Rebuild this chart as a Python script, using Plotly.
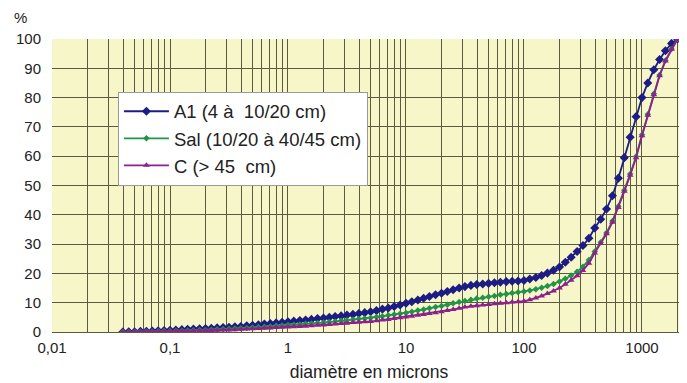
import plotly.graph_objects as go

# particle size classes (microns)
diametre = [
    0.0398, 0.0447, 0.0501, 0.0562, 0.0631, 0.0708, 0.0794, 0.0891,
    0.1, 0.112, 0.126, 0.141, 0.158, 0.178, 0.2, 0.224, 0.251, 0.282,
    0.316, 0.355, 0.398, 0.447, 0.501, 0.562, 0.631, 0.708, 0.794, 0.891,
    1.0, 1.12, 1.26, 1.41, 1.58, 1.78, 2.0, 2.24, 2.51, 2.82,
    3.16, 3.55, 3.98, 4.47, 5.01, 5.62, 6.31, 7.08, 7.94, 8.91,
    10, 11.2, 12.6, 14.1, 15.8, 17.8, 20, 22.4, 25.1, 28.2,
    31.6, 35.5, 39.8, 44.7, 50.1, 56.2, 63.1, 70.8, 79.4, 89.1,
    100, 112, 126, 141, 158, 178, 200, 224, 251, 282,
    316, 355, 398, 447, 501, 562, 631, 708, 794, 891,
    1000, 1120, 1260, 1410, 1580, 1780, 2000,
]

a1 = [
    0.0, 0.05, 0.1, 0.2, 0.25, 0.3, 0.4, 0.5,
    0.6, 0.7, 0.8, 0.9, 1.0, 1.1, 1.2, 1.3, 1.4, 1.5,
    1.6, 1.8, 1.9, 2.1, 2.3, 2.5, 2.7, 2.9, 3.1, 3.3,
    3.5, 3.7, 3.9, 4.1, 4.3, 4.6, 4.8, 5.0, 5.3, 5.5,
    5.8, 6.0, 6.3, 6.6, 6.9, 7.3, 7.8, 8.2, 8.7, 9.2,
    9.8, 10.3, 10.9, 11.5, 12.1, 12.7, 13.2, 13.8, 14.4, 15.0,
    15.5, 15.9, 16.2, 16.4, 16.6, 16.8, 17.0, 17.2, 17.3, 17.4,
    17.6, 18.1, 18.6, 19.3, 20.1, 21.1, 22.2, 23.8, 25.5, 27.5,
    29.5, 32.0, 35.5, 38.5, 42.0, 46.5, 52.5, 59.5, 66.5, 73.5,
    80.0, 85.0, 89.5, 93.0, 96.0, 98.5, 100.0,
]

sal = [
    0.0, 0.0, 0.05, 0.1, 0.15, 0.2, 0.25, 0.3,
    0.35, 0.4, 0.45, 0.5, 0.6, 0.65, 0.7, 0.8, 0.9, 1.0,
    1.1, 1.2, 1.3, 1.4, 1.5, 1.7, 1.8, 1.9, 2.1, 2.2,
    2.4, 2.5, 2.6, 2.8, 2.9, 3.1, 3.2, 3.4, 3.6, 3.8,
    4.0, 4.2, 4.4, 4.6, 4.8, 5.1, 5.4, 5.7, 6.0, 6.2,
    6.5, 6.9, 7.3, 7.7, 8.1, 8.5, 8.9, 9.3, 9.8, 10.2,
    10.6, 11.0, 11.4, 11.7, 12.0, 12.3, 12.7, 13.0, 13.3, 13.6,
    13.8, 14.2, 14.6, 15.1, 15.7, 16.4, 17.2, 18.2, 19.3, 20.6,
    22.3, 24.6, 27.5, 30.6, 33.9, 37.9, 42.9, 48.4, 53.9, 59.9,
    67.3, 74.3, 81.3, 87.7, 92.7, 96.6, 100.0,
]

c = [
    0.0, 0.0, 0.05, 0.1, 0.1, 0.15, 0.2, 0.2,
    0.25, 0.3, 0.3, 0.35, 0.4, 0.45, 0.5, 0.55, 0.6, 0.65,
    0.7, 0.8, 0.9, 1.0, 1.1, 1.2, 1.3, 1.4, 1.5, 1.6,
    1.7, 1.8, 1.9, 2.0, 2.1, 2.3, 2.4, 2.6, 2.7, 2.9,
    3.0, 3.2, 3.3, 3.5, 3.6, 3.8, 4.1, 4.3, 4.6, 4.9,
    5.1, 5.4, 5.7, 6.0, 6.3, 6.6, 6.9, 7.3, 7.7, 8.1,
    8.5, 8.8, 9.0, 9.2, 9.4, 9.6, 9.8, 10.0, 10.2, 10.3,
    10.5, 11.0, 11.6, 12.3, 13.1, 14.0, 15.0, 16.3, 17.7, 19.2,
    21.0, 23.5, 27.0, 30.2, 33.5, 37.5, 42.5, 48.0, 53.5, 59.5,
    67.0, 74.0, 81.0, 87.5, 92.5, 96.5, 100.0,
]

x_ticks = [0.01, 0.1, 1, 10, 100, 1000]
x_ticktext = ["0,01", "0,1", "1", "10", "100", "1000"]

GRID = "#5a5a40"
minor_vals = [m * 10 ** e for e in range(-2, 4) for m in range(2, 10) if m * 10 ** e <= 2000]

fig = go.Figure()
fig.add_trace(go.Scatter(x=diametre, y=a1, mode="lines+markers", name="A1 (4 à  10/20 cm)",
                         line=dict(color="#1c1c84", width=1.8),
                         marker=dict(symbol="diamond", size=7, color="#1c1c84")))
fig.add_trace(go.Scatter(x=diametre, y=sal, mode="lines+markers", name="Sal (10/20 à 40/45 cm)",
                         line=dict(color="#22934a", width=1.8),
                         marker=dict(symbol="diamond", size=5, color="#22934a")))
fig.add_trace(go.Scatter(x=diametre, y=c, mode="lines+markers", name="C (> 45  cm)",
                         line=dict(color="#8e1f8e", width=1.8),
                         marker=dict(symbol="triangle-up", size=6, color="#8e1f8e")))

fig.update_xaxes(type="log", range=[-2, 3.373], tickvals=x_ticks, ticktext=x_ticktext,
                 showgrid=True, gridcolor=GRID, gridwidth=1, ticks="", showline=False,
                 ticklabelstandoff=5,
                 minor=dict(tickvals=minor_vals, showgrid=True, gridcolor=GRID, gridwidth=1, ticks=""),
                 title=dict(text="diamètre en microns", font=dict(size=17.5, color="#222"), standoff=10),
                 tickfont=dict(size=15, color="#222"))
fig.update_yaxes(range=[0, 100], dtick=10, showgrid=True, gridcolor=GRID, gridwidth=1,
                 zeroline=True, zerolinecolor=GRID, zerolinewidth=1, showline=False, ticks="",
                 ticklabelstandoff=10,
                 tickfont=dict(size=15, color="#222"))

fig.add_annotation(text="%", xref="paper", yref="paper", x=-0.05, y=1.075,
                   showarrow=False, xanchor="center", yanchor="middle",
                   font=dict(size=15, color="#222"))

# the page has an 8px body margin, so the figure is a bit smaller than the window
fig.update_layout(
    width=679, height=375,
    margin=dict(l=44, r=1, t=31, b=51),
    paper_bgcolor="white",
    plot_bgcolor="#f6f6c9",
    font=dict(family="Liberation Sans, Arial, sans-serif"),
    legend=dict(x=0.104, y=0.82, xanchor="left", yanchor="top",
                bgcolor="white", bordercolor="#999", borderwidth=1,
                font=dict(size=18.5, color="#222"),
                itemwidth=45),
)

fig.write_html("out.html")
